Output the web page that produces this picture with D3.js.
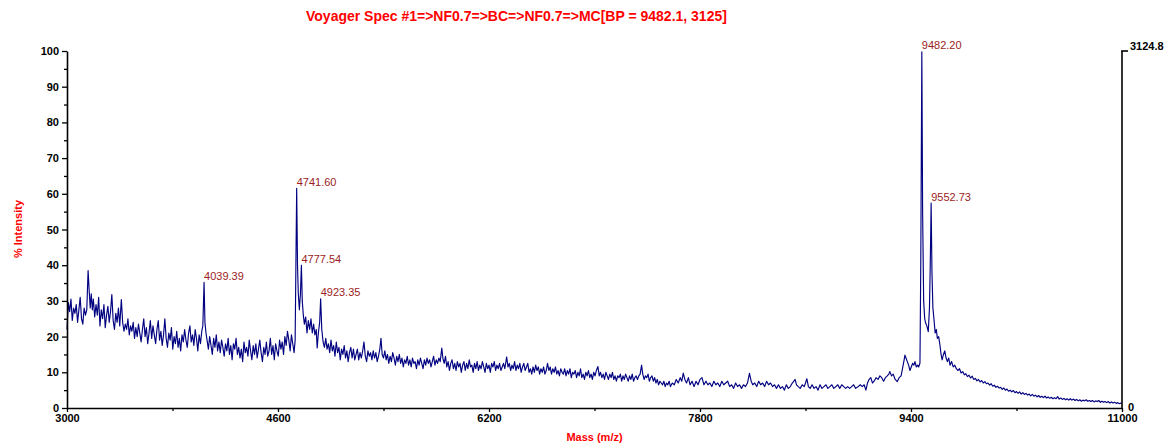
<!DOCTYPE html>
<html>
<head>
<meta charset="utf-8">
<script src="https://cdn.jsdelivr.net/npm/d3@7"></script>
<style>
  html, body { margin: 0; padding: 0; background: #fff; }
  svg { display: block; }
  text { font-family: Arial, "Liberation Sans", sans-serif; }
</style>
</head>
<body>
<svg id="chart" width="1171" height="443"></svg>
<script>
// ---- data ----
const titleText = "Voyager Spec #1=>NF0.7=>BC=>NF0.7=>MC[BP = 9482.1, 3125]";
const xTitle = "Mass (m/z)";
const yTitle = "% Intensity";
const xTickValues = [3000, 4600, 6200, 7800, 9400, 11000];
const xMinorTicks = [3800, 5400, 7000, 8600, 10200];
const yTickValues = [0, 10, 20, 30, 40, 50, 60, 70, 80, 90, 100];
const yMinorTicks = [5, 15, 25, 35, 45, 55, 65, 75, 85, 95];
const rightAxisLabels = ["3124.8", "0"];
const peakMasses = [4039.39, 4741.60, 4777.54, 4923.35, 9482.20, 9552.73];
const peakLabels = ["4039.39", "4741.60", "4777.54", "4923.35", "9482.20", "9552.73"];

// [m/z, % intensity]
const spectrum = [
[3000,22],[3010,29.5],[3020,27],[3030,30.5],[3040,24.5],[3050,28],[3060,26.5],[3070,29],[3080,24],[3090,27.5],
[3100,31],[3110,25],[3120,23.5],[3130,28],[3140,26],[3150,27.5],[3160,38.5],[3168,33],[3176,28],[3184,32],
[3192,27.5],[3200,30.5],[3210,25.5],[3220,29],[3230,26],[3240,31],[3250,23],[3260,27.5],[3270,25],[3280,29],
[3290,22.5],[3300,26],[3310,28.5],[3320,24],[3330,27],[3340,31.8],[3350,24.5],[3360,22],[3370,26.5],[3380,24],
[3390,28],[3400,23],[3412,30.4],[3422,24],[3432,21.5],[3442,23.5],[3452,22],[3462,25],[3472,20.5],[3482,23],
[3492,21.5],[3502,24],[3512,19.5],[3522,22.5],[3532,20],[3542,23.5],[3552,21],[3562,18.5],[3572,22],[3582,25],
[3592,20],[3602,22.5],[3612,18],[3622,21],[3632,24.5],[3642,19.5],[3652,23],[3662,20.5],[3672,18],[3682,22],
[3692,24.5],[3702,19],[3712,21.5],[3722,17.5],[3732,20.5],[3742,25],[3752,19.5],[3762,17],[3772,21],[3782,19],
[3792,22.5],[3802,16.5],[3812,20],[3822,18],[3832,21.5],[3842,17],[3852,19.5],[3862,16],[3872,20.5],[3882,18.5],
[3892,22],[3902,19],[3912,17],[3922,21],[3932,23],[3942,18.5],[3952,20.5],[3962,17.5],[3972,22],[3982,19.5],
[3992,16],[4002,20.5],[4012,18],[4022,21.5],[4030,23],[4039.4,35.2],[4046,24],[4054,21],[4062,19],[4072,16.5],
[4082,20],[4092,17.5],[4102,15],[4112,19.5],[4122,17],[4132,20.5],[4142,16],[4152,18.5],[4162,15.5],[4172,19],
[4182,17],[4192,14.5],[4202,18],[4212,16],[4222,19.5],[4232,15],[4242,17.5],[4252,13.5],[4262,18],[4272,16.5],
[4282,19.5],[4292,15],[4302,17],[4312,14],[4322,16.5],[4332,13],[4342,18.5],[4352,15.5],[4362,17],[4372,14.5],
[4382,19],[4392,16],[4402,13.5],[4412,17.5],[4422,15],[4432,18],[4442,14],[4452,16.5],[4462,19],[4472,15.5],
[4482,13],[4492,17],[4502,15],[4512,18.5],[4522,14.5],[4532,16],[4542,19.5],[4552,15],[4562,17.5],[4572,13.5],
[4582,18],[4592,16],[4602,14.5],[4612,19],[4622,16.5],[4632,18.5],[4642,15],[4652,20],[4662,17.5],[4672,21.5],
[4682,19],[4692,16],[4702,20.5],[4712,18],[4722,15.5],[4730,19],[4741.6,61.5],[4748,40],[4754,32],[4762,27.5],
[4770,32],[4777.5,40],[4784,30],[4792,26],[4800,23.5],[4810,25.5],[4820,21],[4830,24.5],[4840,22],[4850,25],
[4860,21],[4870,23.5],[4880,20.5],[4890,22],[4897,16.8],[4906,21],[4916,24],[4923.4,30.6],[4932,22],[4942,18.5],
[4952,17],[4962,19.5],[4972,16.5],[4982,18],[4992,15.5],[5002,19],[5012,16],[5022,17.5],[5032,14.5],[5042,18.5],
[5052,15.5],[5062,17],[5072,13.5],[5082,16.5],[5092,15],[5102,17.5],[5112,14],[5122,16],[5132,13],[5142,15.5],
[5152,17],[5162,14],[5172,16.5],[5182,13.5],[5192,15],[5202,16.5],[5212,13.5],[5222,15.5],[5232,14],[5242,16],
[5252,18.5],[5262,14.5],[5272,13],[5282,16],[5292,14.5],[5302,15.5],[5312,13.5],[5322,16],[5332,14],[5342,15.5],
[5352,13],[5362,14.5],[5372,16.5],[5381,19.5],[5390,15],[5400,14],[5410,16],[5420,13.5],[5430,15],[5440,12.5],
[5450,14.5],[5460,13],[5470,15.5],[5480,14],[5490,12],[5500,14.5],[5510,13],[5520,15],[5530,12.5],[5540,14],
[5550,11.5],[5560,13.5],[5570,12.5],[5580,14.5],[5590,12],[5600,13.5],[5610,11.5],[5620,14],[5630,12.5],[5640,13],
[5650,11],[5660,13.5],[5670,12],[5680,14],[5690,12.5],[5700,11],[5710,13.5],[5720,12],[5730,14],[5740,12.5],
[5750,13.5],[5760,11.5],[5770,13],[5780,14.5],[5790,12],[5800,13.5],[5810,12.5],[5820,14],[5830,13],[5842,16.8],
[5850,14],[5860,12.5],[5870,14.5],[5880,11.5],[5890,13],[5900,10.5],[5910,12.5],[5920,13.5],[5930,11],[5940,12.5],
[5950,10.5],[5960,13],[5970,11.5],[5980,12.5],[5990,10],[6000,12],[6010,13],[6020,10.5],[6030,12.5],[6040,11],
[6050,13.5],[6060,11.5],[6070,12],[6080,10],[6090,12.5],[6100,11],[6110,13],[6120,10.5],[6130,12],[6140,11],
[6150,13],[6160,11.5],[6170,10],[6180,12.5],[6190,11],[6200,12],[6210,10],[6220,12.5],[6230,11.5],[6240,13],
[6250,10.5],[6260,12],[6270,11],[6280,12.5],[6290,10.5],[6300,11.5],[6310,12.5],[6320,11],[6334,14.3],[6344,11.5],
[6354,12.5],[6364,10.5],[6374,12],[6384,11],[6394,13],[6404,10.5],[6414,12],[6424,11],[6434,12.5],[6444,10],
[6454,11.5],[6464,12.5],[6474,10.5],[6484,11.5],[6494,12.5],[6504,10],[6514,11],[6524,9.5],[6534,11.5],[6544,10],
[6554,12],[6564,10.5],[6574,11.5],[6584,9.5],[6594,11],[6604,10],[6614,11.5],[6624,9.5],[6634,10.5],[6644,12.5],
[6654,10.5],[6664,11.5],[6674,9.5],[6684,11],[6694,10],[6704,11.5],[6714,9.5],[6724,10.5],[6734,9],[6744,11],
[6754,10],[6764,9.5],[6774,11],[6784,9],[6794,10.5],[6804,9.5],[6814,11],[6824,8.5],[6834,10],[6844,9.5],
[6854,10.5],[6864,8.5],[6874,10],[6884,9],[6894,11],[6904,8.5],[6914,9.5],[6924,8],[6934,10],[6944,9],
[6954,10.5],[6964,8.5],[6974,9.5],[6984,8],[6994,10],[7004,9],[7014,10.5],[7026,11.6],[7036,9],[7046,10],
[7056,8.5],[7066,9.5],[7076,8],[7086,10],[7096,9],[7106,8],[7116,9.5],[7126,8.5],[7136,10],[7146,8],
[7156,9],[7166,7.5],[7176,9],[7186,8.5],[7196,9.5],[7206,7.5],[7216,9],[7226,8],[7236,9.5],[7246,8.5],
[7256,7.5],[7266,9],[7276,8],[7286,9.5],[7296,7.5],[7306,8.5],[7316,9],[7326,8],[7336,9],[7346,9.5],
[7357,12],[7366,9.5],[7376,8],[7386,9],[7396,8.5],[7406,9.5],[7416,7.5],[7426,8.5],[7436,9],[7446,7.5],
[7456,8.5],[7466,7],[7476,8],[7486,6.5],[7496,7.5],[7506,7],[7516,6.5],[7526,7.5],[7536,6],[7546,7],
[7556,6.5],[7566,7.5],[7576,6],[7590,7],[7605,6.5],[7620,8],[7635,7],[7650,8.5],[7662,7.5],[7673,9.8],
[7685,8],[7698,7],[7712,8.5],[7725,6.5],[7740,7.5],[7755,6],[7770,7.5],[7785,6.5],[7800,8],[7815,8.5],
[7830,6.5],[7845,7.5],[7860,6.5],[7875,7],[7890,6],[7905,7.5],[7920,6.5],[7935,7],[7950,6],[7965,7.5],
[7980,6.5],[7995,7],[8010,7.5],[8025,6],[8040,6.5],[8055,5.5],[8070,7],[8085,6],[8100,6.5],[8115,5.5],
[8130,6.5],[8145,6],[8160,7],[8175,9.7],[8188,7.5],[8200,6.5],[8215,7],[8230,6],[8245,7.5],[8260,6.5],
[8275,7],[8290,6],[8305,7.5],[8320,6.5],[8335,7],[8350,6],[8365,6.5],[8380,5.5],[8395,6.5],[8410,5.5],
[8425,6],[8440,5],[8455,6.5],[8470,5.5],[8485,6],[8500,7],[8512,7.5],[8521,8],[8532,6.5],[8545,6],
[8560,5.5],[8575,6.5],[8590,6],[8600,7],[8610,8.2],[8622,6],[8635,5.5],[8650,6.5],[8665,5.5],[8680,6],
[8695,5],[8710,6.5],[8725,5.5],[8740,6],[8755,6.5],[8770,5.5],[8785,6],[8800,6.5],[8815,5.5],[8830,6],
[8845,6.5],[8860,5.5],[8875,6.5],[8890,6],[8905,5.5],[8920,6],[8935,5.5],[8950,6],[8965,6.5],[8980,5.5],
[9000,6],[9015,6.5],[9030,6],[9045,6.5],[9058,5],[9070,7],[9082,8],[9095,8.5],[9108,7],[9120,7.5],
[9135,8.5],[9150,8],[9164,9],[9178,8.5],[9192,7.5],[9206,8.5],[9220,9],[9232,9.5],[9240,10.2],[9252,9],
[9265,9.5],[9280,8],[9296,7.4],[9310,8.5],[9325,9],[9338,11.5],[9348,13.5],[9354,14.8],[9362,14],[9372,13],
[9382,12],[9392,10.5],[9402,11.5],[9412,12.5],[9422,12],[9430,13],[9440,11.5],[9450,12],[9458,11.5],[9468,12.6],
[9474,40],[9482.2,99.8],[9488,55],[9496,30],[9504,25],[9511,23.8],[9520,23],[9531,21.4],[9540,28],[9546,40],
[9552.7,57.4],[9559,38],[9566,28],[9574,25],[9583,21],[9592,22],[9600,19.5],[9610,20],[9620,17.5],[9628,15],
[9636,13.5],[9646,15],[9656,16],[9666,14],[9676,13],[9686,14],[9696,12],[9708,13],[9720,11.5],[9732,12],
[9744,11],[9756,10.5],[9768,11],[9780,9.8],[9792,10.2],[9804,9.3],[9816,9.6],[9828,8.8],[9840,9.2],[9852,8.4],
[9864,8.9],[9876,8],[9888,8.3],[9900,7.6],[9912,8],[9924,7.3],[9936,7.7],[9948,7],[9960,7.4],[9972,6.8],
[9984,7],[9996,6.4],[10008,6.8],[10020,6.1],[10032,6.4],[10044,5.8],[10056,6.1],[10068,5.6],[10080,5.8],[10092,5.2],
[10104,5.6],[10116,5],[10128,5.3],[10140,4.7],[10152,5],[10164,4.5],[10176,4.9],[10188,4.3],[10200,4.6],[10212,4.1],
[10224,4.5],[10236,3.9],[10248,4.3],[10260,3.8],[10272,4.1],[10284,3.6],[10296,3.9],[10308,3.4],[10320,3.8],[10332,3.3],
[10344,3.6],[10356,3.1],[10368,3.5],[10380,3],[10392,3.3],[10404,2.9],[10416,3.3],[10428,2.8],[10440,3.1],[10452,2.7],
[10464,3],[10476,2.6],[10488,2.9],[10500,2.6],[10512,3.2],[10524,2.5],[10536,2.8],[10548,2.4],[10560,2.7],[10572,2.3],
[10584,2.6],[10596,2.2],[10608,2.6],[10620,2.2],[10632,2.5],[10644,2.1],[10656,2.4],[10668,2],[10680,2.3],[10692,1.9],
[10704,2.2],[10716,2],[10728,2.3],[10740,1.9],[10752,2.1],[10764,1.8],[10776,2.1],[10788,1.7],[10800,2],[10812,1.8],
[10824,2.1],[10836,1.6],[10848,1.9],[10860,1.6],[10872,1.8],[10884,1.5],[10896,1.8],[10908,1.4],[10920,1.7],[10932,1.4],
[10944,1.6],[10956,1.3],[10968,1.5],[10980,1.2],[10992,1.4],[11000,1.3]
];

// ---- drawing ----
const svg = d3.select("#chart");
const x = d3.scaleLinear().domain([3000, 11000]).range([67, 1122]);
const y = d3.scaleLinear().domain([0, 100]).range([408, 51]);
const font = "Arial, 'Liberation Sans', sans-serif";

// title
svg.append("text").attr("x", 306).attr("y", 21)
  .attr("fill", "#ff0000").attr("font-weight", "bold").attr("font-size", 14)
  .text(titleText);

// spectrum line
const line = d3.line().x(d => x(d[0])).y(d => y(d[1]));
svg.append("path").datum(spectrum)
  .attr("d", line).attr("fill", "none")
  .attr("stroke", "#000080").attr("stroke-width", 1.15)
  .attr("stroke-linejoin", "round");

// left axis
svg.append("g").attr("transform", `translate(${x(3000)},0)`)
  .call(d3.axisLeft(y).tickValues(yTickValues).tickSize(5).tickSizeOuter(0).tickPadding(3));
svg.append("g").attr("transform", `translate(${x(3000)},0)`)
  .call(d3.axisLeft(y).tickValues(yMinorTicks).tickSize(3).tickSizeOuter(0).tickFormat(""))
  .select(".domain").remove();

// bottom axis
svg.append("g").attr("transform", `translate(0,${y(0)})`)
  .call(d3.axisBottom(x).tickValues(xTickValues).tickSize(4).tickSizeOuter(0).tickPadding(2).tickFormat(d3.format("d")));
svg.append("g").attr("transform", `translate(0,${y(0)})`)
  .call(d3.axisBottom(x).tickValues(xMinorTicks).tickSize(3).tickSizeOuter(0).tickFormat(""))
  .select(".domain").remove();

svg.selectAll(".tick text").attr("font-family", font).attr("font-weight", "bold")
  .attr("font-size", 11).attr("fill", "#000");
svg.selectAll(".domain").attr("stroke", "#000").attr("stroke-width", 1.6);
svg.selectAll(".tick line").attr("stroke", "#000").attr("stroke-width", 1.3);

// right axis
const yR = d3.scaleLinear().domain([0, 3124.8]).range([408, 51]);
svg.append("line").attr("x1", x(11000)).attr("x2", x(11000))
  .attr("y1", yR(0)).attr("y2", yR(3124.8)).attr("stroke", "#000").attr("stroke-width", 1.6);
svg.append("line").attr("x1", x(11000) - 0.8).attr("x2", x(11000) + 6)
  .attr("y1", yR(3124.8)).attr("y2", yR(3124.8)).attr("stroke", "#000").attr("stroke-width", 1.6);
svg.append("text").attr("x", x(11000) + 8).attr("y", yR(3124.8) - 1)
  .attr("font-weight", "bold").attr("font-size", 11).text(rightAxisLabels[0]);
svg.append("text").attr("x", x(11000) + 6).attr("y", yR(0) + 3)
  .attr("font-weight", "bold").attr("font-size", 11).text(rightAxisLabels[1]);

// axis titles
svg.append("text").attr("x", x(7000)).attr("y", 441).attr("text-anchor", "middle")
  .attr("fill", "#ff0000").attr("font-weight", "bold").attr("font-size", 11).text(xTitle);
svg.append("text").attr("transform", `translate(22,229) rotate(-90)`).attr("text-anchor", "middle")
  .attr("fill", "#ff0000").attr("font-weight", "bold").attr("font-size", 11).text(yTitle);

// peak labels
peakMasses.forEach((m, i) => {
  const near = spectrum.filter(d => Math.abs(d[0] - m) < 6);
  const top = d3.max(near, d => d[1]);
  svg.append("text").attr("x", x(m)).attr("y", y(top) - 2.5)
    .attr("fill", "#9b1c1c").attr("font-size", 11).text(peakLabels[i]);
});
</script>
</body>
</html>
